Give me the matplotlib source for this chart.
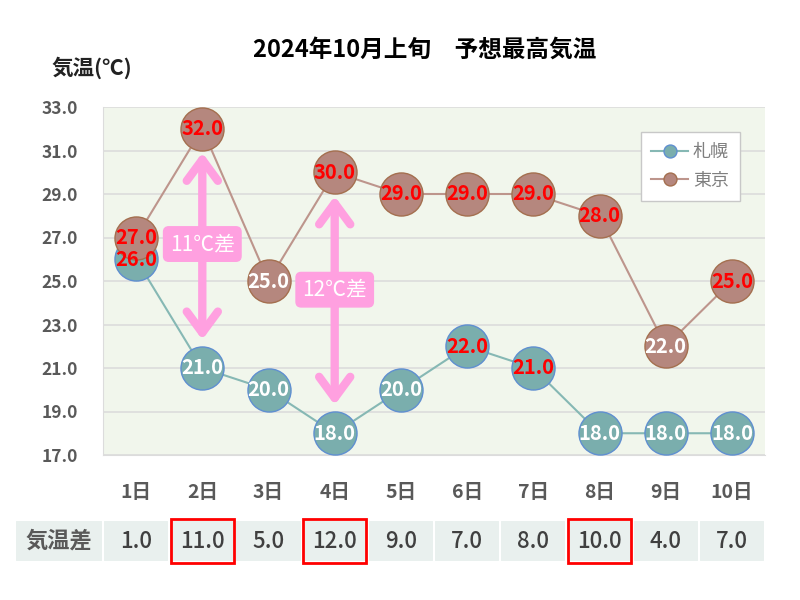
import matplotlib
matplotlib.use("Agg")
import matplotlib.pyplot as plt
from matplotlib.patches import Rectangle, FancyArrowPatch

plt.rcParams['font.family'] = ['Noto Sans CJK JP', 'DejaVu Sans']

# データ
days = ["1日", "2日", "3日", "4日", "5日", "6日", "7日", "8日", "9日", "10日"]
sapporo = [26.0, 21.0, 20.0, 18.0, 20.0, 22.0, 21.0, 18.0, 18.0, 18.0]
tokyo = [27.0, 32.0, 25.0, 30.0, 29.0, 29.0, 29.0, 28.0, 22.0, 25.0]
sa = [1.0, 11.0, 5.0, 12.0, 9.0, 7.0, 8.0, 10.0, 4.0, 7.0]
waku = [1, 3, 7]          # 赤枠のセル
aka_sapporo = [0, 5, 6]   # 赤字のラベル
aka_tokyo = [0, 1, 3, 4, 5, 6, 7, 9]
yajirushi = [(1, 30.9, 22.3, "11℃差", 26.7), (3, 28.9, 19.3, "12℃差", 24.6)]

c_sap_line = "#86b8b4"
c_sap_face = "#7aaead"
c_sap_edge = "#5f8fd0"
c_tok_line = "#bd958c"
c_tok_face = "#b5877e"
c_tok_edge = "#a46f4f"
pink = "#ffa0e0"
gray = "#595959"

fig = plt.figure(figsize=(8, 6), dpi=100)
ax = fig.add_axes([103/800, 1-455/600, 662/800, 348/600])
ax.set_facecolor("#f1f6ec")
x = list(range(len(days)))

ax.plot(x, sapporo, color=c_sap_line, lw=1.5, marker="o", ms=31,
        mfc=c_sap_face, mec=c_sap_edge, mew=1.0, label="札幌", zorder=3)
ax.plot(x, tokyo, color=c_tok_line, lw=1.5, marker="o", ms=31,
        mfc=c_tok_face, mec=c_tok_edge, mew=1.0, label="東京", zorder=4)

for i in x:
    s, t = sapporo[i], tokyo[i]
    cs = "red" if i in aka_sapporo else "white"
    ct = "red" if i in aka_tokyo else "white"
    ax.text(i, s, f"{s:.1f}", ha="center", va="center", color=cs,
            fontsize=14.5, fontweight="bold", zorder=6)
    ax.text(i, t, f"{t:.1f}", ha="center", va="center", color=ct,
            fontsize=14.5, fontweight="bold", zorder=6)

# 矢印と差のラベル
for xi, y1, y2, txt, ty in yajirushi:
    arr = FancyArrowPatch((xi, y2), (xi, y1),
                          arrowstyle="<->,head_length=0.38,head_width=0.28",
                          mutation_scale=40, color=pink, lw=6, zorder=7,
                          shrinkA=0, shrinkB=0, capstyle="round")
    ax.add_patch(arr)
    ax.text(xi, ty, txt, ha="center", va="center", color="white",
            fontsize=15, zorder=8,
            bbox=dict(boxstyle="round,pad=0.3,rounding_size=0.25",
                      fc=pink, ec=pink))

ax.set_xlim(-0.5, 9.5)
ax.set_ylim(17, 33)
ax.set_yticks([17, 19, 21, 23, 25, 27, 29, 31, 33])
ax.set_yticklabels([f"{v:.1f}" for v in [17, 19, 21, 23, 25, 27, 29, 31, 33]],
                   fontsize=12.5, fontweight="bold", color=gray)
ax.set_xticks(x)
ax.set_xticklabels(days, fontsize=14, fontweight="bold", color=gray)
ax.tick_params(axis="both", length=0)
ax.tick_params(axis="x", pad=20)
ax.tick_params(axis="y", pad=18)
ax.grid(axis="y", color="#dcdcdc", lw=1.2)
ax.set_axisbelow(True)
for sp in ax.spines.values():
    sp.set_visible(False)
ax.spines["left"].set_visible(True)
ax.spines["left"].set_color("#dcdcdc")
ax.spines["bottom"].set_visible(True)
ax.spines["bottom"].set_color("#dcdcdc")

leg = ax.legend(loc="upper right", bbox_to_anchor=(0.962, 0.928), fontsize=13,
                markerscale=0.3, handlelength=2.0, frameon=True, fancybox=False,
                labelspacing=0.6, borderpad=0.6, handletextpad=0.3,
                borderaxespad=0)
leg.get_frame().set_edgecolor("#c8c8c8")
leg.get_frame().set_facecolor("white")
leg.get_frame().set_alpha(1)
for t in leg.get_texts():
    t.set_color("#7f7f7f")

fig.text(425/800, 1-50/600, "2024年10月上旬　予想最高気温", ha="center", va="center",
         fontsize=17, fontweight="bold")
fig.text(92/800, 1-68/600, "気温(℃)", ha="center", va="center",
         fontsize=15.5, fontweight="bold", color="#222222")

# 気温差の表
tb = fig.add_axes([103/800, 1-562/600, 662/800, 42/600])
tb.set_xlim(-0.5, 9.5)
tb.set_ylim(0, 1)
tb.axis("off")
cell = "#e9f0ee"
tb.add_patch(Rectangle((-1.83, 0), 1.33, 1, fc=cell, ec="white", lw=1.5, clip_on=False))
tb.text(-1.165, 0.5, "気温差", ha="center", va="center", fontsize=16,
        fontweight="bold", color=gray)
for i in x:
    tb.add_patch(Rectangle((i-0.5, 0), 1, 1, fc=cell, ec="white", lw=1.5, clip_on=False))
    tb.text(i, 0.5, f"{sa[i]:.1f}", ha="center", va="center", fontsize=16,
            color="#404040", fontweight="medium")
for i in waku:
    tb.add_patch(Rectangle((i-0.48, -0.03), 0.96, 1.06, fc="none", ec="red",
                           lw=2, clip_on=False, zorder=5))

fig.savefig("out.png", dpi=100, facecolor="white")
